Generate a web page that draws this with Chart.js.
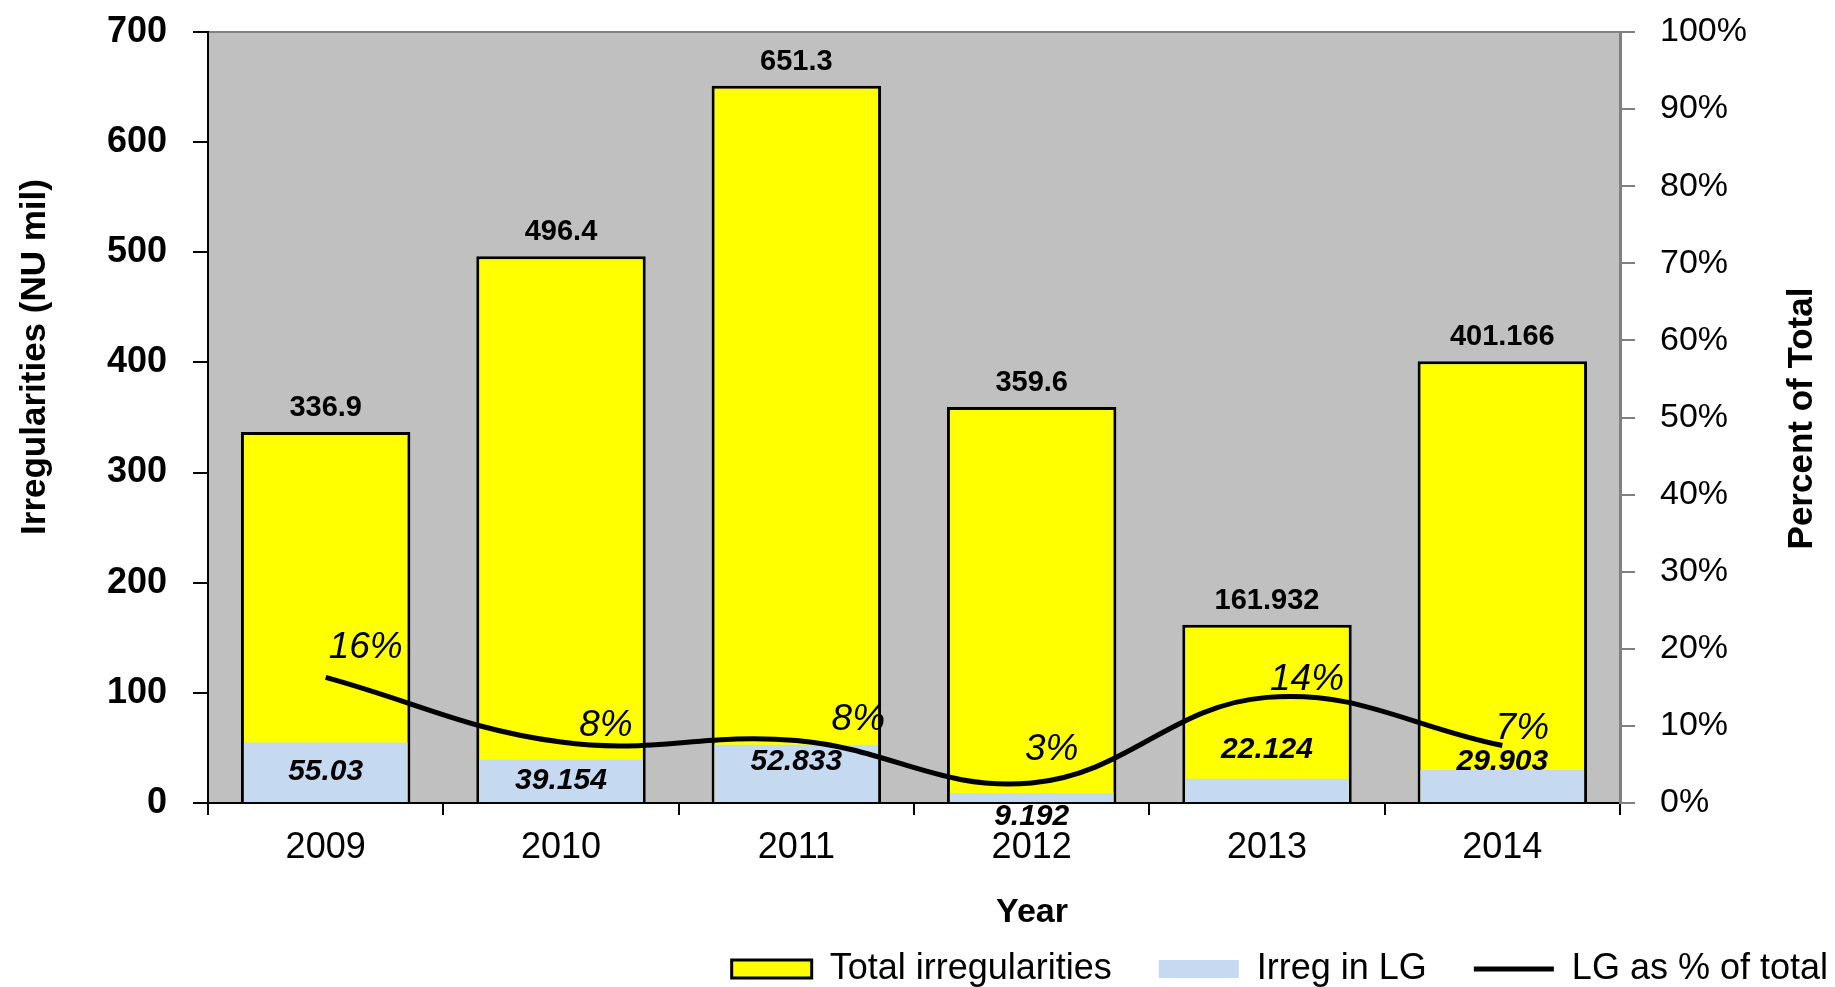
<!DOCTYPE html>
<html>
<head>
<meta charset="utf-8">
<title>Irregularities</title>
<script src="https://cdn.jsdelivr.net/npm/chart.js@4"></script>
<style>
  html, body { margin: 0; padding: 0; background: #fff; }
</style>
</head>
<body>
<canvas id="irregChart" width="1835" height="987"></canvas>
<script>
const years = ['2009', '2010', '2011', '2012', '2013', '2014'];
const totalIrregularities = [336.9, 496.4, 651.3, 359.6, 161.932, 401.166];
const irregInLG = [55.03, 39.154, 52.833, 9.192, 22.124, 29.903];
const lgPercentOfTotal = [16.3, 7.9, 8.1, 2.6, 13.7, 7.45];
const leftTickLabels = ['0', '100', '200', '300', '400', '500', '600', '700'];
const rightTickLabels = ['0%', '10%', '20%', '30%', '40%', '50%', '60%', '70%', '80%', '90%', '100%'];

// labels were moved by hand in the original, so nudge them the same way (px)
const lgLabelShift = [0, 0, -12, 19, -41, -24];
const pctLabelShift = [[40, -30], [45, -16], [62, -21], [20, -33], [40, -18], [20, -17]];
const legendMarks = ['rect', 'rect', 'line'];

const FONT = "'Liberation Sans', Arial, sans-serif";
Chart.defaults.font.family = FONT;
Chart.defaults.color = '#000';

const plotBackground = {
    id: 'plotBackground',
    beforeDraw(chart) {
        const {ctx, chartArea: a} = chart;
        ctx.save();
        ctx.fillStyle = '#c0c0c0';
        ctx.fillRect(a.left, a.top, a.right - a.left, a.bottom - a.top);
        ctx.strokeStyle = '#808080';
        ctx.lineWidth = 2;
        ctx.beginPath();
        ctx.moveTo(a.left, a.top);
        ctx.lineTo(a.right, a.top);
        ctx.stroke();
        ctx.restore();
    }
};

const valueLabels = {
    id: 'valueLabels',
    afterDatasetsDraw(chart) {
        const ctx = chart.ctx;
        ctx.save();
        ctx.fillStyle = '#000';
        ctx.textAlign = 'center';
        ctx.textBaseline = 'middle';
        ctx.font = 'bold 29px ' + FONT;
        chart.getDatasetMeta(0).data.forEach((bar, i) => {
            ctx.fillText(String(totalIrregularities[i]), bar.x, bar.y - 24);
        });
        ctx.font = 'italic bold 30px ' + FONT;
        chart.getDatasetMeta(1).data.forEach((bar, i) => {
            ctx.fillText(String(irregInLG[i]), bar.x, (bar.y + bar.base) / 2 + lgLabelShift[i]);
        });
        ctx.font = 'italic 37px ' + FONT;
        chart.getDatasetMeta(2).data.forEach((pt, i) => {
            ctx.fillText(Math.round(lgPercentOfTotal[i]) + '%', pt.x + pctLabelShift[i][0], pt.y + pctLabelShift[i][1]);
        });
        ctx.restore();
    }
};

// axis titles drawn by hand: right one reads bottom-to-top like Excel
const axisTitles = {
    id: 'axisTitles',
    afterDraw(chart) {
        const {ctx, chartArea: a} = chart;
        ctx.save();
        ctx.fillStyle = '#000';
        ctx.textAlign = 'center';
        ctx.textBaseline = 'middle';
        ctx.font = 'bold 35px ' + FONT;

        ctx.save();
        ctx.translate(a.left - 173, a.top + 325);
        ctx.rotate(-Math.PI / 2);
        ctx.fillText('Irregularities (NU mil)', 0, 0);
        ctx.restore();

        ctx.save();
        ctx.translate(a.right + 182, (a.top + a.bottom) / 2 + 1);
        ctx.rotate(-Math.PI / 2);
        ctx.fillText('Percent of Total', 0, 0);
        ctx.restore();

        ctx.font = 'bold 34px ' + FONT;
        ctx.fillText('Year', a.left + 824, a.bottom + 110);
        ctx.restore();
    }
};

function fixWidth(w) {
    return (s) => {
        s.width = w;
        s.paddingTop = 0;
        s.paddingBottom = 0;
    };
}

document.addEventListener('DOMContentLoaded', function () {
    const ctx = document.getElementById('irregChart').getContext('2d');
    new Chart(ctx, {
        type: 'bar',
        data: {
            labels: years,
            datasets: [{
                label: 'Total irregularities',
                data: totalIrregularities,
                backgroundColor: '#ffff00',
                borderColor: '#000',
                borderWidth: 3,
                barPercentage: 0.72,
                categoryPercentage: 1,
                grouped: false,
                yAxisID: 'y',
                order: 2
            }, {
                label: 'Irreg in LG',
                data: irregInLG,
                backgroundColor: '#c5d9f1',
                borderWidth: 0,
                barPercentage: 0.695,
                categoryPercentage: 1,
                grouped: false,
                yAxisID: 'y',
                order: 1
            }, {
                type: 'line',
                label: 'LG as % of total',
                data: lgPercentOfTotal,
                borderColor: '#000',
                backgroundColor: '#000',
                borderWidth: 5,
                pointRadius: 0,
                tension: 0.4,
                fill: false,
                yAxisID: 'y1',
                order: 0
            }]
        },
        options: {
            responsive: false,
            animation: false,
            devicePixelRatio: 1,
            layout: {
                padding: {top: 32, left: 0, right: -40, bottom: -10}
            },
            scales: {
                x: {
                    grid: {drawOnChartArea: false, tickLength: 12, color: '#000', lineWidth: 2, offset: true},
                    border: {color: '#000', width: 2},
                    ticks: {font: {size: 36}, color: '#000', padding: 11},
                    afterFit: (s) => { s.height = 101; }
                },
                y: {
                    position: 'left',
                    min: 0,
                    max: 700,
                    ticks: {
                        stepSize: 100,
                        font: {size: 36, weight: 'bold'},
                        color: '#000',
                        padding: 26,
                        callback: (v, i) => leftTickLabels[i]
                    },
                    grid: {drawOnChartArea: false, tickLength: 15, color: '#000', lineWidth: 2},
                    border: {color: '#000', width: 2},
                    afterFit: fixWidth(208)
                },
                y1: {
                    position: 'right',
                    min: 0,
                    max: 100,
                    ticks: {
                        stepSize: 10,
                        font: {size: 34},
                        color: '#000',
                        padding: 25,
                        callback: (v, i) => rightTickLabels[i]
                    },
                    grid: {drawOnChartArea: false, tickLength: 15, color: '#808080', lineWidth: 2},
                    border: {color: '#808080', width: 3},
                    afterFit: fixWidth(255)
                }
            },
            plugins: {
                tooltip: {enabled: false},
                legend: {
                    position: 'bottom',
                    align: 'end',
                    labels: {
                        usePointStyle: true,
                        pointStyleWidth: 80,
                        boxHeight: 18,
                        padding: 47,
                        color: '#000',
                        font: {size: 36},
                        sort: (a, b) => a.datasetIndex - b.datasetIndex,
                        generateLabels(chart) {
                            const items = Chart.defaults.plugins.legend.labels.generateLabels(chart);
                            items.forEach(it => { it.pointStyle = legendMarks[it.datasetIndex]; });
                            return items;
                        }
                    }
                }
            }
        },
        plugins: [plotBackground, valueLabels, axisTitles]
    });
});
</script>
</body>
</html>
